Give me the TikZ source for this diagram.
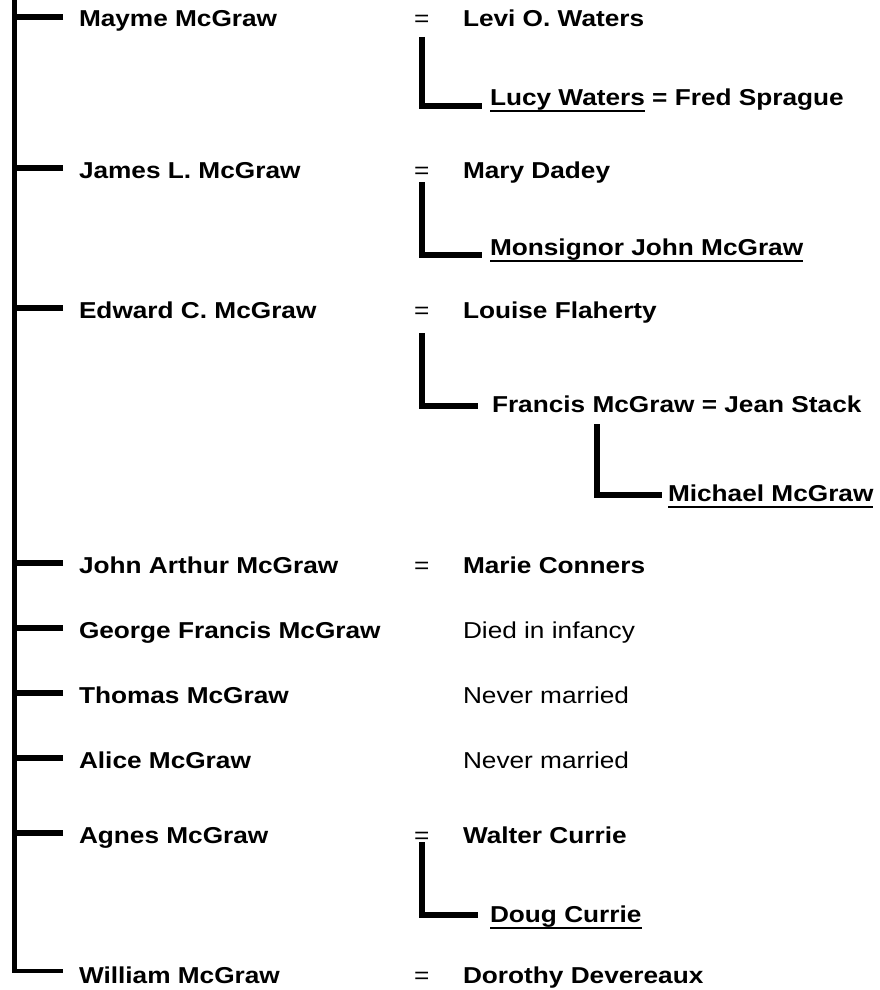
\documentclass[tikz,border=0pt]{standalone}
\usepackage{fontspec}
\setmainfont{Liberation Sans}
\newcommand\sx[1]{\scalebox{1.14}[1]{#1}}
\newcommand\ulx[1]{\setbox0\hbox{\sx{#1}}\rlap{\rule[-7pt]{\wd0}{2.3pt}}\box0}
\tikzset{
  nm/.style={anchor=base west, inner sep=0pt, outer sep=0pt, font=\bfseries\fontsize{23}{23}\selectfont},
  plain/.style={nm, font=\mdseries\fontsize{23}{23}\selectfont},
  eqs/.style={plain},
  trunk/.style={line width=4.5pt},
  tick/.style={line width=5.5pt},
  conn/.style={line width=6pt, miter limit=10}
}
\begin{document}
\begin{tikzpicture}[x=1pt,y=-1pt]
\path[use as bounding box, fill=white] (0,0) rectangle (879,990);
% row 1
\node[nm] (mayme) at (79,27) {\sx{Mayme McGraw}};
\node[eqs] (eq1) at (414,27) {\sx{=}};
\node[nm] (levi) at (463,27) {\sx{Levi O. Waters}};
\node[nm] (lucy) at (490,105) {\ulx{Lucy Waters}\sx{ = Fred Sprague}};
% row 2
\node[nm] (james) at (79,178) {\sx{James L. McGraw}};
\node[eqs] (eq2) at (414,178) {\sx{=}};
\node[nm] (mary) at (463,178) {\sx{Mary Dadey}};
\node[nm] (monsignor) at (490,255) {\ulx{Monsignor John McGraw}};
% row 3
\node[nm] (edward) at (79,318) {\sx{Edward C. McGraw}};
\node[eqs] (eq3) at (414,318) {\sx{=}};
\node[nm] (louise) at (463,318) {\sx{Louise Flaherty}};
\node[nm] (francis) at (492,412) {\sx{Francis McGraw = Jean Stack}};
\node[nm] (michael) at (668,501) {\ulx{Michael McGraw}};
% row 4
\node[nm] (john) at (79,573) {\sx{John Arthur McGraw}};
\node[eqs] (eq4) at (414,573) {\sx{=}};
\node[nm] (marie) at (463,573) {\sx{Marie Conners}};
% row 5-7
\node[nm] (george) at (79,638) {\sx{George Francis McGraw}};
\node[plain] (died) at (463,638) {\sx{Died in infancy}};
\node[nm] (thomas) at (79,703) {\sx{Thomas McGraw}};
\node[plain] (never1) at (463,703) {\sx{Never married}};
\node[nm] (alice) at (79,768) {\sx{Alice McGraw}};
\node[plain] (never2) at (463,768) {\sx{Never married}};
% row 8
\node[nm] (agnes) at (79,843) {\sx{Agnes McGraw}};
\node[eqs] (eq5) at (414,843) {\sx{=}};
\node[nm] (walter) at (463,843) {\sx{Walter Currie}};
\node[nm] (doug) at (490,922) {\ulx{Doug Currie}};
% row 9
\node[nm] (william) at (79,983) {\sx{William McGraw}};
\node[eqs] (eq6) at (414,983) {\sx{=}};
\node[nm] (dorothy) at (463,983) {\sx{Dorothy Devereaux}};
% trunk
\coordinate (trunktop) at (14.5,-5);
\draw[trunk] (trunktop) |- ([shift={(-16,-12)}]william.base west);
\foreach \n in {mayme,james,edward,john,george,thomas,alice,agnes}
  \draw[tick] ([shift={(-16,-10)}]\n.base west) coordinate (tk) -- (tk -| trunktop);
% descendant connectors
\draw[conn] ([shift={(0,10)}]eq1.base) |- ([shift={(-8,1)}]lucy.base west);
\draw[conn] ([shift={(0,4)}]eq2.base) |- ([shift={(-8,0)}]monsignor.base west);
\draw[conn] ([shift={(0,15)}]eq3.base) |- ([shift={(-14,-6)}]francis.base west);
\draw[conn] ([shift={(105,12)}]francis.base west) |- ([shift={(-6,-6)}]michael.base west);
\draw[conn] ([shift={(0,-1)}]eq5.base) |- ([shift={(-12,-7)}]doug.base west);
\end{tikzpicture}
\end{document}
